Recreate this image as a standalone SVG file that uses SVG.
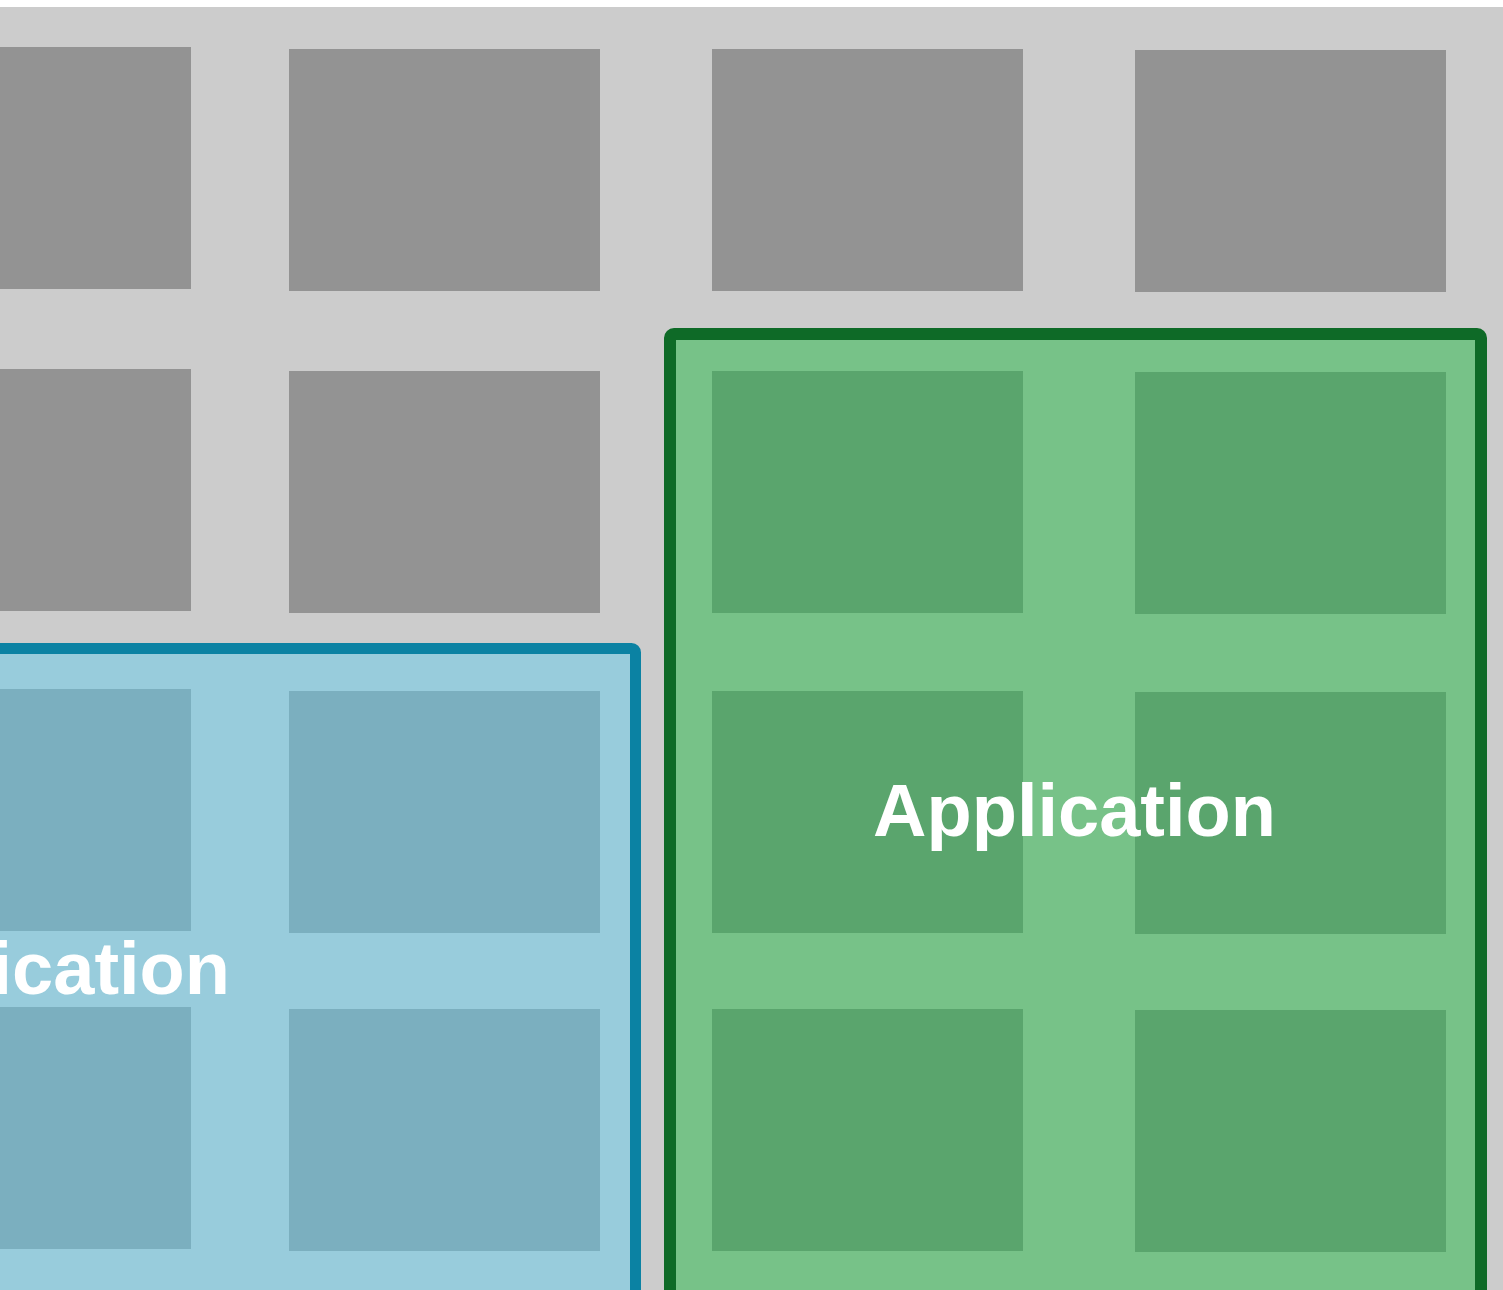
<svg xmlns="http://www.w3.org/2000/svg" width="1503" height="1290" viewBox="0 0 1503 1290">
<style>
.bg{fill:#cccccc}
.cell{fill:#939393}
.blue{fill:#98ccdc;stroke:#0b82a3;stroke-width:11}
.green{fill:#77c288;stroke:#0e6a27;stroke-width:12}
.bcell{fill:#7bafbf}
.gcell{fill:#5aa56d}
.lbl{font-family:"Liberation Sans",Arial,sans-serif;font-weight:bold;font-size:74px;fill:#ffffff}
</style>
<rect class="bg" x="0" y="7" width="1503" height="1283"/>
<g id="grid">
<rect class="cell" x="0" y="47" width="191" height="242"/>
<rect class="cell" x="289" y="49" width="311" height="242"/>
<rect class="cell" x="712" y="49" width="311" height="242"/>
<rect class="cell" x="1135" y="50" width="311" height="242"/>
<rect class="cell" x="0" y="369" width="191" height="242"/>
<rect class="cell" x="289" y="371" width="311" height="242"/>
</g>
<g id="blue-app">
<rect class="blue" x="-20" y="648.5" width="655.5" height="660" rx="4"/>
<rect class="bcell" x="0" y="689" width="191" height="242"/>
<rect class="bcell" x="289" y="691" width="311" height="242"/>
<rect class="bcell" x="0" y="1007" width="191" height="242"/>
<rect class="bcell" x="289" y="1009" width="311" height="242"/>
<text class="lbl" x="230" y="994" text-anchor="end">Application</text>
</g>
<g id="green-app">
<rect class="green" x="670" y="334" width="811" height="970" rx="4"/>
<rect class="gcell" x="712" y="371" width="311" height="242"/>
<rect class="gcell" x="1135" y="372" width="311" height="242"/>
<rect class="gcell" x="712" y="691" width="311" height="242"/>
<rect class="gcell" x="1135" y="692" width="311" height="242"/>
<rect class="gcell" x="712" y="1009" width="311" height="242"/>
<rect class="gcell" x="1135" y="1010" width="311" height="242"/>
<text class="lbl" x="1074.5" y="836" text-anchor="middle">Application</text>
</g>
<g id="connectors"/>
</svg>
